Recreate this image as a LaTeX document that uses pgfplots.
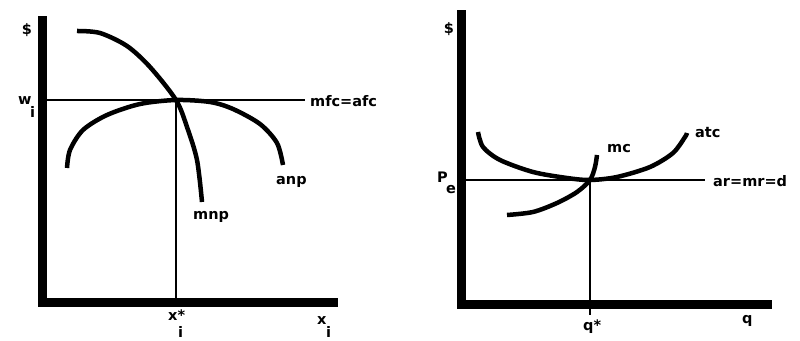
\documentclass[border=0pt]{standalone}
\usepackage{pgfplots}
\pgfplotsset{compat=1.18}
\usepackage{fontspec}
\setmainfont{DejaVu Sans}
\begin{document}
\begin{tikzpicture}[x=1pt,y=1pt,font=\fontsize{14.5pt}{16pt}\selectfont\bfseries]
\path[use as bounding box] (0,0) rectangle (800,340);
\pgfplotsset{
  econ/.style={x=1pt, y=1pt, axis lines=left,
    axis line style={-, line width=9pt, line cap=rect},
    xtick=\empty, ytick=\empty, clip=false, anchor=south west},
  curve/.style={black, line width=4.5pt, smooth, no markers, line cap=butt},
  guide/.style={black, line width=1.6pt, no markers},
}
% ---------- left panel ----------
\begin{axis}[econ, at={(42.5,37.5)}, xmin=42.5, xmax=333.5, ymin=37.5, ymax=319.5]
\addplot[guide] coordinates {(42.5,240) (305,240)};
\addplot[guide, line width=1.3pt] coordinates {(176,240) (176,33)};
\addplot[curve] coordinates {(77,309) (100,307) (127,294) (150,273) (176,240) (187,213) (197,180) (202,138)};
\addplot[curve] coordinates {(67,172) (70,190) (83,210) (107,225) (140,236) (176,240) (210,238) (233,231) (260,216) (277,197) (283,175)};
\node at (axis cs:27,310) {\$};
\node[anchor=base west,inner sep=0pt] at (axis cs:18,235) {w};
\node[anchor=base west,inner sep=0pt] at (axis cs:30,222) {i};
\node[anchor=base west,inner sep=0pt] at (axis cs:310,233) {mfc=afc};
\node[anchor=base west,inner sep=0pt] at (axis cs:276,155) {anp};
\node[anchor=base west,inner sep=0pt] at (axis cs:193,120) {mnp};
\node[anchor=base west,inner sep=0pt] at (axis cs:168,20) {x*};
\node[anchor=base west,inner sep=0pt] at (axis cs:178,3) {i};
\node[anchor=base west,inner sep=0pt] at (axis cs:317,16) {x};
\node[anchor=base west,inner sep=0pt] at (axis cs:326,3) {i};
\end{axis}
% ---------- right panel ----------
\begin{axis}[econ, at={(461.5,35.5)}, xmin=461.5, xmax=767.5, ymin=35.5, ymax=325.5]
\addplot[guide] coordinates {(461.5,160) (705,160)};
\addplot[guide, line width=1.3pt] coordinates {(590,160) (590,25)};
\addplot[curve] coordinates {(478,208) (483,193) (500,180) (533,168) (567,162) (590,160) (617,163) (650,173) (673,187) (685,203) (687,207)};
\addplot[curve] coordinates {(507,125) (533,128) (557,137) (577,148) (590,160) (595,173) (597,185)};
\node at (axis cs:449,311) {\$};
\node[anchor=base west,inner sep=0pt] at (axis cs:437,157) {P};
\node[anchor=base west,inner sep=0pt] at (axis cs:446,146) {e};
\node[anchor=base west,inner sep=0pt] at (axis cs:713,153) {ar=mr=d};
\node[anchor=base west,inner sep=0pt] at (axis cs:695,202) {atc};
\node[anchor=base west,inner sep=0pt] at (axis cs:607,187) {mc};
\node[anchor=base west,inner sep=0pt] at (axis cs:583,10) {q*};
\node[anchor=base west,inner sep=0pt] at (axis cs:742,17) {q};
\end{axis}
\end{tikzpicture}
\end{document}
